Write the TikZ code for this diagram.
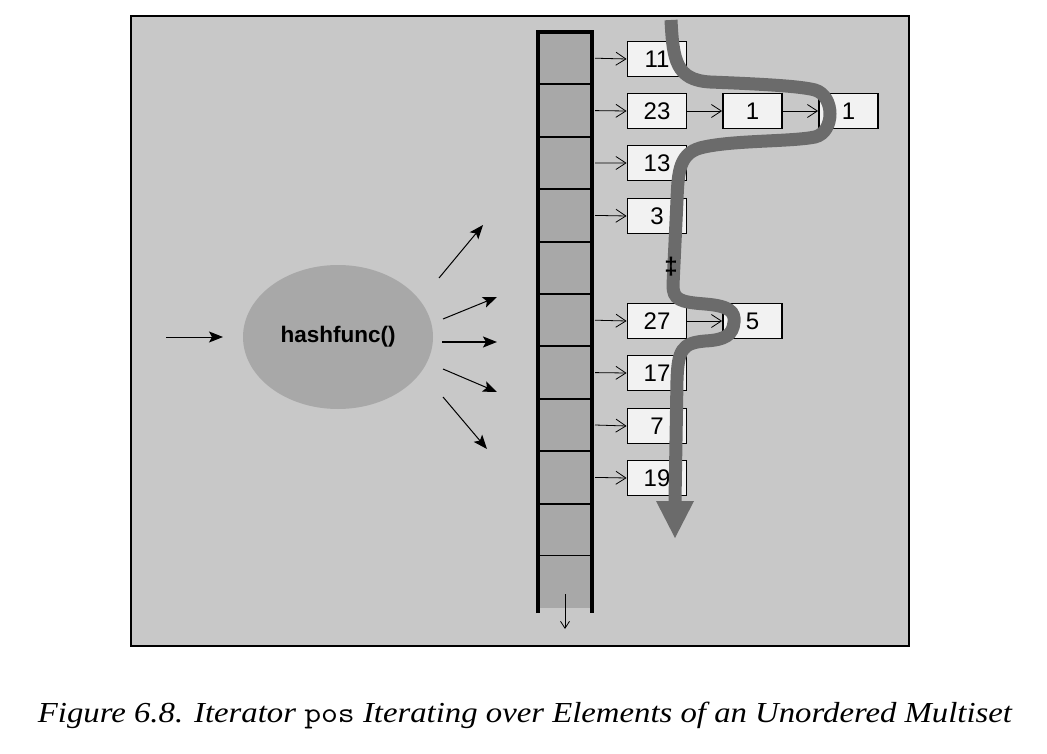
\documentclass[tikz,border=0pt]{standalone}
\usepackage{fontspec}
\setmainfont{Liberation Sans}
\newfontfamily\capfont{Liberation Serif}
\usetikzlibrary{arrows.meta,shapes.geometric}
\definecolor{bgc}{RGB}{200,200,200}
\definecolor{cellc}{RGB}{168,168,168}
\definecolor{boxc}{RGB}{242,242,242}
\definecolor{pathc}{RGB}{107,107,107}
\tikzset{
  cellbox/.style={draw=black,line width=2pt,fill=cellc,minimum width=54pt,minimum height=52.4pt,inner sep=0pt},
  elem/.style={draw=black,line width=1.8pt,fill=boxc,minimum width=59pt,minimum height=35pt,inner sep=0pt,font=\fontsize{24}{28}\selectfont},
  ptr/.style={line width=0.8pt,-{Straight Barb[length=10pt,width=13pt,line width=0.8pt]}},
  hasharrow/.style={line width=1pt,-{Stealth[length=14pt,width=11pt,inset=3pt]}},
  iterpath/.style={draw=pathc,line width=13pt},
  cross/.style={font=\fontsize{24}{24}\selectfont\bfseries,inner sep=0pt}
}
\begin{document}
\begin{tikzpicture}[x=1pt,y=-1pt]
\useasboundingbox (0,0) rectangle (1047,754);
\fill[white] (0,0) rectangle (1047,754);
\draw[line width=2pt,fill=bgc] (131,16) rectangle (909,646);
% bucket array
\foreach \i in {0,...,9}{
  \node[cellbox] (c\i) at (565,{32+52.4*(\i+0.5)}) {};
}
\fill[cellc] (538,556) rectangle (592,608);
\node[inner sep=0pt,minimum width=54pt,minimum height=52pt] (c10) at (565,582) {};
\draw[line width=4pt] (538,613) -- (538,32) -- (592,32) -- (592,613);
\coordinate (endtop) at (565,594);
\coordinate (endbot) at (565,629);
\draw[line width=0.8pt,-{Straight Barb[length=7pt,width=9pt,line width=0.8pt]}] (endtop) -- (endbot);
% elements
\node[elem] (e11) at (657,59) {11};
\node[elem] (e23) at (657,111) {23};
\node[elem] (e1a) at (752.5,111) {1};
\node[elem] (e1b) at (848.5,111) {1};
\node[elem] (e13) at (657,163) {13};
\node[elem] (e3) at (657,216) {3};
\node[elem] (e27) at (657,321) {27};
\node[elem] (e5) at (752.5,321) {5};
\node[elem] (e17) at (657,373) {17};
\node[elem] (e7) at (657,426) {7};
\node[elem] (e19) at (657,478) {19};
\draw[ptr] (c0.east) ++(2,0) -- (e11.west);
\draw[ptr] (c1.east) ++(2,0) -- (e23.west);
\draw[ptr] (c2.east) ++(2,0) -- (e13.west);
\draw[ptr] (c3.east) ++(2,0) -- (e3.west);
\draw[ptr] (c5.east) ++(2,0) -- (e27.west);
\draw[ptr] (c6.east) ++(2,0) -- (e17.west);
\draw[ptr] (c7.east) ++(2,0) -- (e7.west);
\draw[ptr] (c8.east) ++(2,0) -- (e19.west);
\draw[ptr] (e23.east) -- (e1a.west);
\draw[ptr] (e1a.east) -- (e1b.west);
\draw[ptr] (e27.east) -- (e5.west);
% hash function
\node[ellipse,fill=cellc,minimum width=190pt,minimum height=144pt,inner sep=0pt,font=\fontsize{22.5}{26}\selectfont\bfseries] (hf) at (338,337) {hashfunc()};
\coordinate (in) at (166,337);
\coordinate (inend) at (223,337);
\draw[hasharrow] (in) -- (inend);
\coordinate (o1s) at (439,278); \coordinate (o1e) at (483,225);
\coordinate (o2s) at (443,319); \coordinate (o2e) at (497,297);
\coordinate (o3s) at (442,342); \coordinate (o3e) at (497,342);
\coordinate (o4s) at (443,369); \coordinate (o4e) at (497,392);
\coordinate (o5s) at (443,397); \coordinate (o5e) at (487,449);
\draw[hasharrow] (o1s) -- (o1e);
\draw[hasharrow] (o2s) -- (o2e);
\draw[hasharrow,line width=1.6pt] (o3s) -- (o3e);
\draw[hasharrow] (o4s) -- (o4e);
\draw[hasharrow] (o5s) -- (o5e);
% iterator path
\coordinate (pstart) at (671,20);
\coordinate (pend) at (675,501);
\draw[iterpath] (pstart)
  .. controls (673,60) and (676,80) .. (710,82)
  .. controls (760,84) and (800,86) .. (815,90)
  .. controls (835,96) and (835,132) .. (815,137)
  .. controls (790,142) and (730,140) .. (700,148)
  .. controls (680,154) and (678,170) .. (677,200)
  -- (673,285)
  .. controls (673,300) and (680,302) .. (705,304)
  .. controls (730,306) and (735,312) .. (734,322)
  .. controls (733,335) and (725,340) .. (705,341)
  .. controls (682,343) and (678,350) .. (677,380)
  -- (pend);
\fill[pathc] (656,501) -- (694,501) -- (675,538) -- cycle;
\node[cross] (dd) at (671,267) {‡};
% caption
\node[anchor=base,inner sep=0pt,font=\fontsize{29}{31}\selectfont] (cap) at (525,722)
  {\resizebox{974pt}{\height}{\capfont\itshape Figure 6.8. Iterator {\ttfamily\upshape pos} Iterating over Elements of an Unordered Multiset}};
\end{tikzpicture}
\end{document}
